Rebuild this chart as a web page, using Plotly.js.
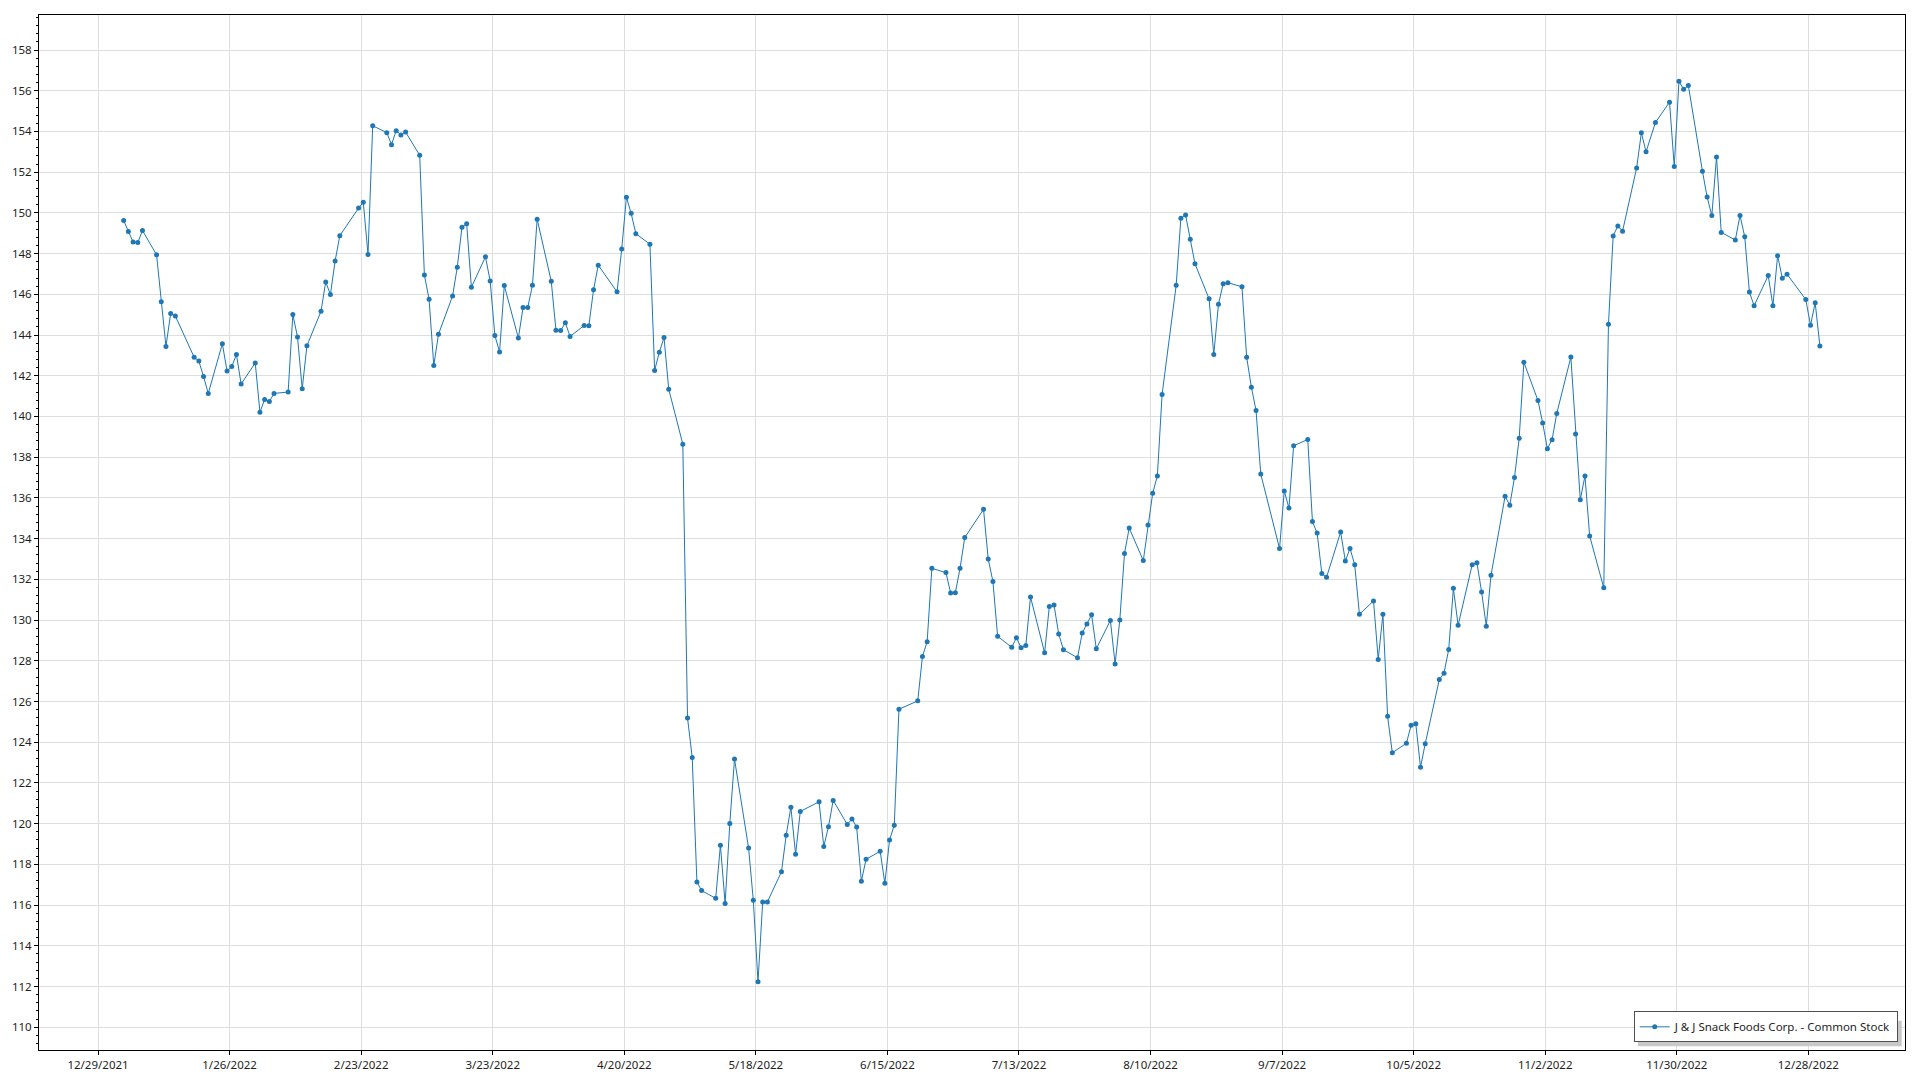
<!DOCTYPE html>
<html>
<head>
<meta charset="utf-8">
<script src="https://cdn.plot.ly/plotly-3.0.1.min.js"></script>
<style>
  html, body { margin: 0; padding: 0; background: #ffffff; }
  #chart { width: 1920px; height: 1080px; }
</style>
</head>
<body>
<div id="chart"></div>
<script>
const seriesName = "J & J Snack Foods Corp. - Common Stock";

const tradeDates = [
  "2022-01-03","2022-01-04","2022-01-05","2022-01-06","2022-01-07","2022-01-10","2022-01-11","2022-01-12","2022-01-13","2022-01-14",
  "2022-01-18","2022-01-19","2022-01-20","2022-01-21","2022-01-24","2022-01-25","2022-01-26","2022-01-27","2022-01-28","2022-01-31",
  "2022-02-01","2022-02-02","2022-02-03","2022-02-04","2022-02-07","2022-02-08","2022-02-09","2022-02-10","2022-02-11","2022-02-14",
  "2022-02-15","2022-02-16","2022-02-17","2022-02-18","2022-02-22","2022-02-23","2022-02-24","2022-02-25","2022-02-28",
  "2022-03-01","2022-03-02","2022-03-03","2022-03-04","2022-03-07","2022-03-08","2022-03-09","2022-03-10","2022-03-11","2022-03-14",
  "2022-03-15","2022-03-16","2022-03-17","2022-03-18","2022-03-21","2022-03-22","2022-03-23","2022-03-24","2022-03-25","2022-03-28",
  "2022-03-29","2022-03-30","2022-03-31",
  "2022-04-01","2022-04-04","2022-04-05","2022-04-06","2022-04-07","2022-04-08","2022-04-11","2022-04-12","2022-04-13","2022-04-14",
  "2022-04-18","2022-04-19","2022-04-20","2022-04-21","2022-04-22","2022-04-25","2022-04-26","2022-04-27","2022-04-28","2022-04-29",
  "2022-05-02","2022-05-03","2022-05-04","2022-05-05","2022-05-06","2022-05-09","2022-05-10","2022-05-11","2022-05-12","2022-05-13",
  "2022-05-16","2022-05-17","2022-05-18","2022-05-19","2022-05-20","2022-05-23","2022-05-24","2022-05-25","2022-05-26","2022-05-27",
  "2022-05-31",
  "2022-06-01","2022-06-02","2022-06-03","2022-06-06","2022-06-07","2022-06-08","2022-06-09","2022-06-10","2022-06-13","2022-06-14",
  "2022-06-15","2022-06-16","2022-06-17","2022-06-21","2022-06-22","2022-06-23","2022-06-24","2022-06-27","2022-06-28","2022-06-29",
  "2022-06-30",
  "2022-07-01","2022-07-05","2022-07-06","2022-07-07","2022-07-08","2022-07-11","2022-07-12","2022-07-13","2022-07-14","2022-07-15",
  "2022-07-18","2022-07-19","2022-07-20","2022-07-21","2022-07-22","2022-07-25","2022-07-26","2022-07-27","2022-07-28","2022-07-29",
  "2022-08-01","2022-08-02","2022-08-03","2022-08-04","2022-08-05","2022-08-08","2022-08-09","2022-08-10","2022-08-11","2022-08-12",
  "2022-08-15","2022-08-16","2022-08-17","2022-08-18","2022-08-19","2022-08-22","2022-08-23","2022-08-24","2022-08-25","2022-08-26",
  "2022-08-29","2022-08-30","2022-08-31",
  "2022-09-01","2022-09-02","2022-09-06","2022-09-07","2022-09-08","2022-09-09","2022-09-12","2022-09-13","2022-09-14","2022-09-15",
  "2022-09-16","2022-09-19","2022-09-20","2022-09-21","2022-09-22","2022-09-23","2022-09-26","2022-09-27","2022-09-28","2022-09-29",
  "2022-09-30",
  "2022-10-03","2022-10-04","2022-10-05","2022-10-06","2022-10-07","2022-10-10","2022-10-11","2022-10-12","2022-10-13","2022-10-14",
  "2022-10-17","2022-10-18","2022-10-19","2022-10-20","2022-10-21","2022-10-24","2022-10-25","2022-10-26","2022-10-27","2022-10-28",
  "2022-10-31",
  "2022-11-01","2022-11-02","2022-11-03","2022-11-04","2022-11-07","2022-11-08","2022-11-09","2022-11-10","2022-11-11","2022-11-14",
  "2022-11-15","2022-11-16","2022-11-17","2022-11-18","2022-11-21","2022-11-22","2022-11-23","2022-11-25","2022-11-28","2022-11-29",
  "2022-11-30",
  "2022-12-01","2022-12-02","2022-12-05","2022-12-06","2022-12-07","2022-12-08","2022-12-09","2022-12-12","2022-12-13","2022-12-14",
  "2022-12-15","2022-12-16","2022-12-19","2022-12-20","2022-12-21","2022-12-22","2022-12-23","2022-12-27","2022-12-28","2022-12-29",
  "2022-12-30"
];

const closePrices = [
  149.62,149.08,148.57,148.54,149.13,147.94,145.64,143.44,145.06,144.93,
  142.91,142.72,141.96,141.13,143.57,142.23,142.45,143.04,141.59,142.63,
  140.21,140.83,140.73,141.13,141.20,145.01,143.90,141.36,143.47,145.17,
  146.61,145.99,147.64,148.88,150.24,150.52,147.95,154.28,153.94,
  153.35,154.04,153.83,153.97,152.83,146.95,145.76,142.50,144.04,145.92,
  147.33,149.30,149.46,146.35,147.84,146.66,143.98,143.17,146.43,143.85,
  145.35,145.35,146.45,
  149.69,146.64,144.24,144.22,144.60,143.93,144.47,144.45,146.22,147.43,
  146.12,148.23,150.77,149.98,148.98,148.46,142.26,143.16,143.88,141.34,
  138.64,125.19,123.25,117.13,116.71,116.33,118.94,116.08,120.00,123.17,
  118.80,116.24,112.23,116.15,116.15,117.64,119.43,120.81,118.49,120.60,
  121.07,
  118.87,119.85,121.14,119.96,120.23,119.83,117.17,118.25,118.64,117.07,
  119.20,119.92,125.62,126.03,128.21,128.93,132.54,132.33,131.33,131.34,
  132.54,
  134.05,135.44,133.00,131.89,129.20,128.66,129.13,128.64,128.75,131.13,
  128.39,130.67,130.74,129.31,128.54,128.15,129.36,129.80,130.26,128.59,
  129.98,127.84,130.00,133.27,134.52,132.92,134.67,136.23,137.08,141.08,
  146.44,149.74,149.90,148.71,147.50,145.78,143.04,145.51,146.52,146.57,
  146.37,142.91,141.44,
  140.29,137.17,133.51,136.34,135.50,138.56,138.87,134.84,134.27,132.29,
  132.10,134.32,132.90,133.52,132.71,130.28,130.94,128.06,130.29,125.27,
  123.48,
  123.95,124.83,124.90,122.77,123.92,127.08,127.39,128.55,131.56,129.74,
  132.72,132.82,131.38,129.70,132.20,136.08,135.64,137.00,138.93,142.66,
  140.78,
  139.68,138.42,138.86,140.15,142.92,139.14,135.91,137.08,134.13,131.58,
  144.53,148.87,149.36,149.10,152.21,153.93,153.00,154.44,155.44,152.28,
  156.46,
  156.07,156.26,152.05,150.78,149.87,152.75,149.04,148.67,149.87,148.83,
  146.11,145.44,146.92,145.44,147.90,146.79,146.99,145.74,144.48,145.58,
  143.46
];

const xTickDates = [
  "2021-12-29","2022-01-26","2022-02-23","2022-03-23","2022-04-20","2022-05-18","2022-06-15",
  "2022-07-13","2022-08-10","2022-09-07","2022-10-05","2022-11-02","2022-11-30","2022-12-28"
];
const xTickLabels = [
  "12/29/2021","1/26/2022","2/23/2022","3/23/2022","4/20/2022","5/18/2022","6/15/2022",
  "7/13/2022","8/10/2022","9/7/2022","10/5/2022","11/2/2022","11/30/2022","12/28/2022"
];
const yTickValues = [110,112,114,116,118,120,122,124,126,128,130,132,134,136,138,140,142,144,146,148,150,152,154,156,158];

const FONT = "'Noto Sans', 'Open Sans', sans-serif";
const lineColor = "#1f77b4";

const trace = {
  type: "scatter",
  mode: "lines+markers",
  name: seriesName,
  x: tradeDates.map(d => d + " 11:00"),
  y: closePrices,
  line: { color: lineColor, width: 1 },
  marker: { color: lineColor, size: 5 },
  hoverinfo: "x+y"
};

const layout = {
  width: 1920,
  height: 1080,
  margin: { l: 39, r: 15, t: 15, b: 30, pad: 0 },
  paper_bgcolor: "#ffffff",
  plot_bgcolor: "#ffffff",
  font: { family: FONT, size: 11.5, color: "#1e1e1e" },
  showlegend: true,
  legend: {
    x: 0.9961, xanchor: "right",
    y: 0.0074, yanchor: "bottom",
    bgcolor: "#ffffff",
    bordercolor: "#505050",
    borderwidth: 1,
    font: { family: FONT, size: 11.5, color: "#1e1e1e" },
    itemwidth: 30
  },
  xaxis: {
    type: "date",
    range: ["2021-12-16 10:30", "2023-01-17 13:40"],
    tickmode: "array",
    tickvals: xTickDates,
    ticktext: xTickLabels,
    ticks: "outside",
    ticklen: 4,
    tickwidth: 1,
    tickcolor: "#000000",
    showline: true,
    linecolor: "#000000",
    linewidth: 1,
    mirror: true,
    showgrid: true,
    gridcolor: "#dedede",
    gridwidth: 1,
    zeroline: false,
    tickfont: { family: FONT, size: 11.5, color: "#1e1e1e" }
  },
  yaxis: {
    range: [108.88, 159.72],
    tickmode: "array",
    tickvals: yTickValues,
    ticks: "outside",
    ticklen: 4,
    tickwidth: 1,
    tickcolor: "#000000",
    minor: { tick0: 110, dtick: 0.4, ticks: "outside", ticklen: 2, tickwidth: 1, tickcolor: "#000000", showgrid: false },
    showline: true,
    linecolor: "#000000",
    linewidth: 1,
    mirror: true,
    showgrid: true,
    gridcolor: "#dedede",
    gridwidth: 1,
    zeroline: false,
    tickfont: { family: FONT, size: 11.5, color: "#1e1e1e" }
  },
  shapes: [
    {
      type: "rect", layer: "above",
      xref: "paper", xsizemode: "pixel", xanchor: 1, x0: -267, x1: -3.3,
      yref: "paper", ysizemode: "pixel", yanchor: 0, y0: 3.7, y1: 29.3,
      fillcolor: "#c8c8c8", line: { width: 0 }
    }
  ]
};

Plotly.newPlot("chart", [trace], layout, { displayModeBar: false, staticPlot: true });
</script>
</body>
</html>
